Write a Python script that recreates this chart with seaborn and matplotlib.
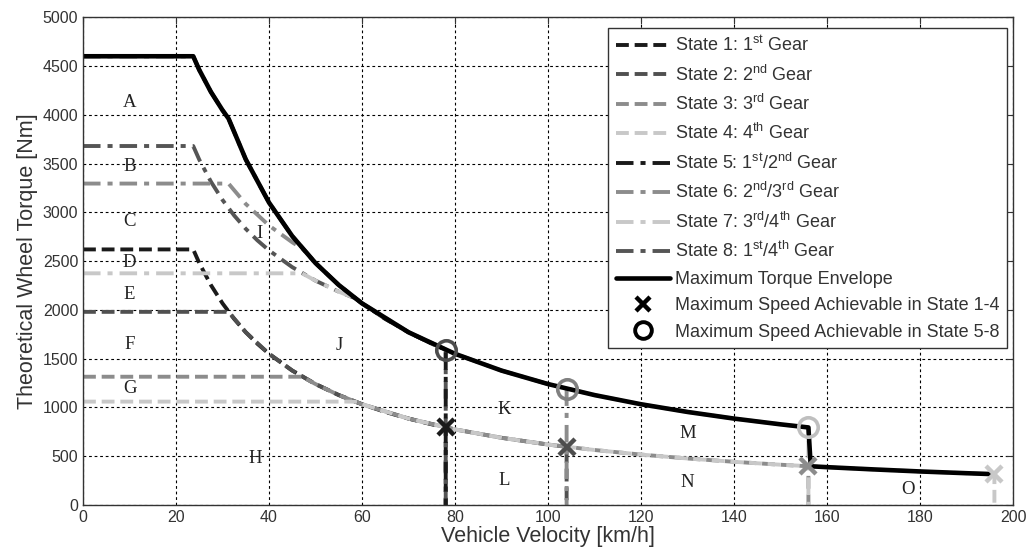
import matplotlib
matplotlib.use("Agg")
import matplotlib.pyplot as plt
from matplotlib.lines import Line2D
import seaborn as sns

# torque curves (velocity km/h, torque Nm)
s1_v = [0, 23.7, 25, 27.5, 30, 32.5, 35, 37.5, 40, 45, 50, 55, 60, 65, 70, 75, 78, 78]
s1_t = [2620, 2620, 2480, 2255, 2067, 1908, 1771, 1653, 1550, 1378, 1240, 1127, 1033, 954, 886, 827, 795, 0]

s2_v = [0, 31.3, 35, 40, 45, 50, 55, 60, 70, 80, 90, 100, 104, 104]
s2_t = [1980, 1980, 1771, 1550, 1378, 1240, 1127, 1033, 886, 775, 689, 620, 596, 0]

s3_v = [0, 47.1, 50, 55, 60, 70, 80, 90, 100, 110, 120, 130, 140, 150, 156, 156]
s3_t = [1315, 1315, 1240, 1127, 1033, 886, 775, 689, 620, 564, 517, 477, 443, 413, 397, 0]

s4_v = [0, 58.5, 60, 70, 80, 90, 100, 110, 120, 130, 140, 150, 160, 170, 180, 190, 196, 196]
s4_t = [1060, 1060, 1033, 886, 775, 689, 620, 564, 517, 477, 443, 413, 388, 365, 344, 326, 316, 0]

s5_v = [0, 23.7, 25, 27.5, 30, 31.3, 35, 40, 45, 50, 55, 60, 65, 70, 75, 78, 78]
s5_t = [4600, 4600, 4460, 4235, 4047, 3961, 3543, 3100, 2756, 2480, 2255, 2067, 1908, 1771, 1653, 1590, 0]

s6_v = [0, 31.3, 35, 40, 45, 47.1, 50, 55, 60, 70, 80, 90, 100, 104, 104]
s6_t = [3295, 3295, 3086, 2865, 2693, 2631, 2480, 2255, 2067, 1771, 1550, 1378, 1240, 1192, 0]

s7_v = [0, 47.1, 50, 55, 58.5, 60, 70, 80, 90, 100, 110, 120, 130, 140, 150, 156, 156]
s7_t = [2375, 2375, 2300, 2187, 2120, 2067, 1771, 1550, 1378, 1240, 1127, 1033, 954, 886, 827, 795, 0]

s8_v = [0, 23.7, 25, 27.5, 30, 32.5, 35, 37.5, 40, 45, 50, 55, 58.5, 60, 65, 70, 75, 78, 78]
s8_t = [3680, 3680, 3540, 3315, 3127, 2968, 2831, 2713, 2610, 2438, 2300, 2187, 2120, 2067, 1908, 1771, 1653, 1590, 0]

env_v = [0, 23.7, 25, 27.5, 30, 31.3, 35, 40, 45, 50, 55, 60, 70, 80, 90, 100, 110, 120,
         130, 140, 150, 156, 156.5, 160, 170, 180, 190, 196]
env_t = [4600, 4600, 4460, 4235, 4047, 3961, 3543, 3100, 2756, 2480, 2255, 2067, 1771, 1550,
         1378, 1240, 1127, 1033, 954, 886, 827, 795, 397, 388, 365, 344, 326, 316]

# max speed markers
circ_v = [78, 104, 156]
circ_t = [1590, 1192, 795]
cross_v = [78, 104, 156, 196]
cross_t = [795, 596, 397, 316]

labels = ["State 1: 1$^{\\rm st}$ Gear", "State 2: 2$^{\\rm nd}$ Gear",
          "State 3: 3$^{\\rm rd}$ Gear", "State 4: 4$^{\\rm th}$ Gear",
          "State 5: 1$^{\\rm st}$/2$^{\\rm nd}$ Gear", "State 6: 2$^{\\rm nd}$/3$^{\\rm rd}$ Gear",
          "State 7: 3$^{\\rm rd}$/4$^{\\rm th}$ Gear", "State 8: 1$^{\\rm st}$/4$^{\\rm th}$ Gear",
          "Maximum Torque Envelope", "Maximum Speed Achievable in State 1-4",
          "Maximum Speed Achievable in State 5-8"]

regions = ["A", "B", "C", "D", "E", "F", "G", "H", "I", "J", "K", "L", "M", "N", "O"]
region_x = [10, 10, 10, 10, 10, 10, 10, 37, 38, 55, 90.5, 90.5, 130, 130, 177.5]
region_y = [4130, 3470, 2910, 2490, 2160, 1650, 1190, 480, 2780, 1640, 975, 255, 730, 230, 160]

sns.set_style("white")
plt.rcParams["font.family"] = ["Liberation Sans", "DejaVu Sans"]
plt.rcParams["mathtext.fontset"] = "custom"
plt.rcParams["mathtext.rm"] = "Liberation Sans"
plt.rcParams["mathtext.it"] = "Liberation Sans:italic"

fig, ax = plt.subplots(figsize=(10.3, 5.56), dpi=100)
fig.subplots_adjust(left=0.0806, right=0.9835, bottom=0.0917, top=0.969)

dash = (0, (3.3, 1.5))
dashdot = (0, (4.5, 1.8, 1.3, 1.8))
c_k, c_d, c_m, c_l = "#1a1a1a", "#505050", "#8c8c8c", "#c8c8c8"

curves = [
    (s1_v, s1_t, c_k, dash), (s2_v, s2_t, c_d, dash),
    (s3_v, s3_t, c_m, dash), (s4_v, s4_t, c_l, dash),
    (s8_v, s8_t, "#555555", dashdot), (s7_v, s7_t, c_l, dashdot),
    (s6_v, s6_t, c_m, dashdot), (s5_v, s5_t, c_k, dashdot),
]
handles = {}
for i, (v, t, c, ls) in enumerate(curves):
    sns.lineplot(x=v, y=t, sort=False, estimator=None, color=c, linestyle=ls,
                 linewidth=2.8, ax=ax)
    handles[i] = ax.lines[-1]
order = [0, 1, 2, 3, 7, 6, 5, 4]
line_handles = [handles[i] for i in order]

sns.lineplot(x=env_v, y=env_t, sort=False, estimator=None, color="black",
             linewidth=3.3, ax=ax)
line_handles.append(ax.lines[-1])

for v, t, c in zip(circ_v, circ_t, ["#4d4d4d", "#808080", "#bfbfbf"]):
    sns.lineplot(x=[v], y=[t], marker="o", markersize=14, markerfacecolor="none",
                 markeredgecolor=c, markeredgewidth=2.6, linestyle="none", ax=ax)
for v, t, c in zip(cross_v, cross_t, ["#1a1a1a", "#4d4d4d", "#8c8c8c", "#c8c8c8"]):
    sns.lineplot(x=[v], y=[t], marker="x", markersize=11, markeredgewidth=3.2,
                 markeredgecolor=c, linestyle="none", ax=ax)

for lab, x, y in zip(regions, region_x, region_y):
    ax.text(x, y, lab, family="Liberation Serif", fontsize=13.5, color="#222222",
            ha="center", va="center")

line_handles.append(Line2D([], [], marker="x", color="k", linestyle="none",
                           markersize=10, markeredgewidth=3.2))
line_handles.append(Line2D([], [], marker="o", color="k", markerfacecolor="none",
                           linestyle="none", markersize=12, markeredgewidth=2.8))

leg = ax.legend(line_handles, labels, loc="upper right",
                bbox_to_anchor=(0.9935, 0.9775), borderaxespad=0, fontsize=13,
                handlelength=3.0, handletextpad=0.3, labelspacing=0.52,
                fancybox=False, framealpha=1, edgecolor="#333333",
                borderpad=0.4)
leg.get_frame().set_linewidth(1)
for txt in leg.get_texts():
    txt.set_color("#333333")

ax.set_xlim(0, 200)
ax.set_ylim(0, 5000)
ax.set_xticks(range(0, 201, 20))
ax.set_yticks(range(0, 5001, 500))
ax.grid(True, color="black", linestyle=(0, (2.5, 2.5)), linewidth=0.8)
ax.set_axisbelow(True)
ax.tick_params(direction="in", top=True, right=True, length=5, labelsize=11.5,
               labelcolor="#333333", color="#333333")
for sp in ax.spines.values():
    sp.set_color("#333333")
    sp.set_linewidth(1)
ax.set_xlabel("Vehicle Velocity [km/h]", fontsize=15.5, color="#333333", labelpad=1)
ax.set_ylabel("Theoretical Wheel Torque [Nm]", fontsize=15.5, color="#333333", labelpad=3)

fig.savefig("out.png", dpi=100)
